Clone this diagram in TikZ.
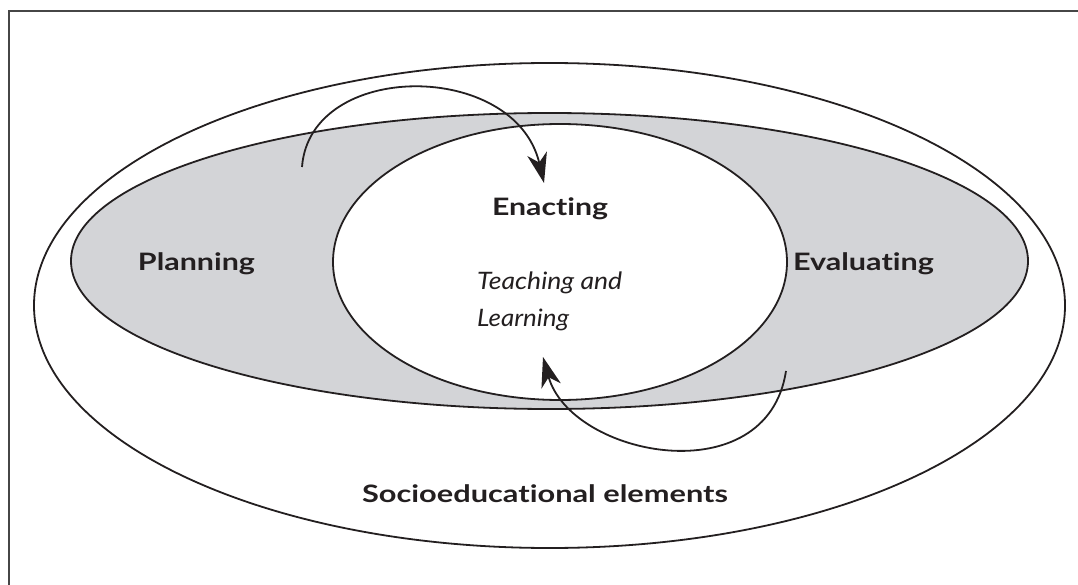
\documentclass[tikz,border=0pt]{standalone}
\usepackage{fontspec}
\setmainfont{Lato}[Ligatures=NoCommon]
\usetikzlibrary{shapes.geometric,arrows.meta}
\definecolor{ringgray}{RGB}{211,212,215}
\definecolor{inkdark}{RGB}{35,31,32}
\definecolor{framegray}{RGB}{70,70,70}
% set a label to a fixed width, keeping its height
\newcommand\setwide[2]{\resizebox{#1}{\height}{#2}}
\begin{document}
\begin{tikzpicture}[x=1pt,y=-1pt,
  ring/.style={ellipse,draw=inkdark,line width=1.8pt,inner sep=0pt},
  heading/.style={font=\fontsize{24}{28}\selectfont\bfseries,text=inkdark,anchor=base,inner sep=0pt},
  note/.style={font=\fontsize{24}{37}\selectfont\itshape,text=inkdark,align=left,inner sep=0pt},
  cycle/.style={draw=inkdark,line width=1.8pt,-{Stealth[length=30pt,width=20pt,inset=9pt]}}]
\useasboundingbox (0,0) rectangle (1078,585);
% frame
\draw[framegray,line width=1.2pt] (9,585) -- (9,11) -- (1078,11);
% three nested regions
\node[ring,minimum width=1031pt,minimum height=485pt] (context) at (549.5,305.5) {};
\node[ring,fill=ringgray,minimum width=957pt,minimum height=296pt] (phases) at (549.5,261) {};
\node[ring,fill=white,minimum width=454pt,minimum height=276pt] (core) at (560,262) {};
% labels
\node[heading] (enact) at (550,216) {\setwide{116pt}{Enacting}};
\node[heading] (plan) at (196.5,271) {\setwide{117pt}{Planning}};
\node[heading] (eval) at (863.5,271) {\setwide{141pt}{Evaluating}};
\node[heading] (socio) at (545,502) {\setwide{366pt}{Socioeducational elements}};
\node[note,anchor=north west] (tl) at (477,272) {\setwide{145pt}{Teaching and}\\\setwide{92pt}{Learning}};
% cycle arrows
\coordinate (planout) at (302,167);
\coordinate (enactin) at (544,183);
\coordinate (evalout) at (786,371);
\coordinate (enactback) at (543,357);
\draw[cycle] (planout) .. controls (310,60) and (515,60) .. (enactin);
\draw[cycle] (evalout) .. controls (767,495) and (571,457) .. (enactback);
\end{tikzpicture}
\end{document}
